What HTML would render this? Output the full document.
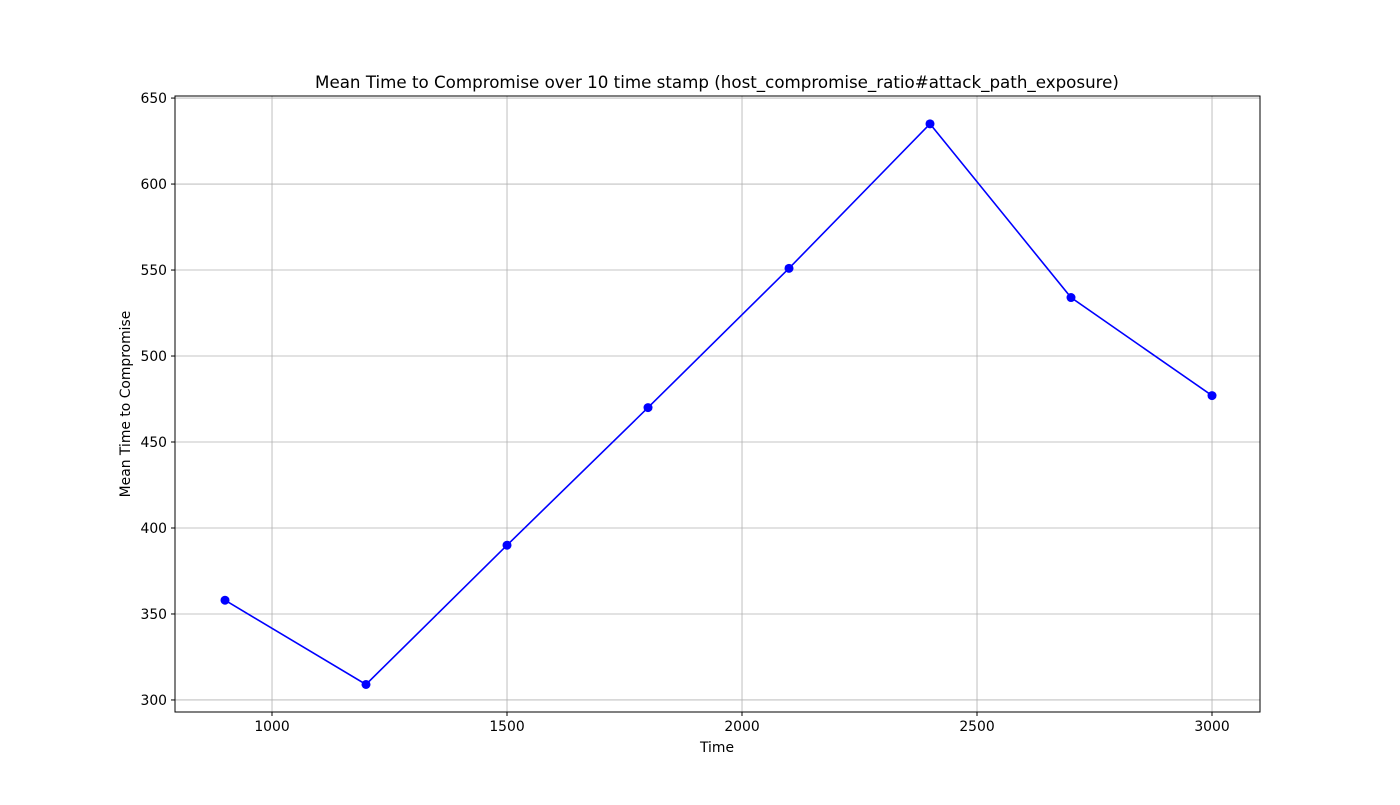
<!DOCTYPE html>
<html><head><meta charset="utf-8">
<style>
body{margin:0;background:#fff;}
svg text{font-family:"DejaVu Sans","Liberation Sans",sans-serif;fill:#000;}
</style></head>
<body>
<svg id="chart" width="1400" height="800" xmlns="http://www.w3.org/2000/svg">
<rect width="1400" height="800" fill="#fff"/>
<text x="717" y="88" font-size="16.7" text-anchor="middle">Mean Time to Compromise over 10 time stamp (host_compromise_ratio#attack_path_exposure)</text>
<g id="grid"></g>
<g id="ticks"></g>
<g id="series"></g>
<rect x="175" y="96" width="1085" height="616" fill="none" stroke="#000" stroke-width="1"/>
<text x="717" y="752" font-size="13.9" text-anchor="middle">Time</text>
<text x="130" y="404" font-size="13.9" text-anchor="middle" transform="rotate(-90 130 404)">Mean Time to Compromise</text>
</svg>
<script>
const times = [900, 1200, 1500, 1800, 2100, 2400, 2700, 3000];
const mttc = [358, 309, 390, 470, 551, 635, 534, 477];
const xTicks = [1000, 1500, 2000, 2500, 3000];
const yTicks = [300, 350, 400, 450, 500, 550, 600, 650];

const L=175,R=1260,T=96,B=712;
const xMin=793.6,xMax=3102.1,yMin=293.0,yMax=651.2;
const xs=v=>L+(v-xMin)/(xMax-xMin)*(R-L);
const ys=v=>B-(v-yMin)/(yMax-yMin)*(B-T);
const NS='http://www.w3.org/2000/svg';
function mk(tag,attrs,parent){const e=document.createElementNS(NS,tag);for(const k in attrs)e.setAttribute(k,attrs[k]);document.getElementById(parent).appendChild(e);return e;}

xTicks.forEach(v=>{
  const x=xs(v);
  const g=mk('line',{x1:x,x2:x,y1:T,y2:B,stroke:'#b0b0b0','stroke-width':0.8},'grid');
  
  
  const t=mk('line',{x1:x,x2:x,y1:B,y2:B+4,stroke:'#000'},'ticks');
  
  
  const l=mk('text',{x:x,y:B+19,'font-size':13.9,'text-anchor':'middle'},'ticks');
  l.textContent=v;
  
  
});
yTicks.forEach(v=>{
  const y=ys(v);
  const g=mk('line',{x1:L,x2:R,y1:y,y2:y,stroke:'#b0b0b0','stroke-width':0.8},'grid');
  
  
  const t=mk('line',{x1:L-4,x2:L,y1:y,y2:y,stroke:'#000'},'ticks');
  
  
  const l=mk('text',{x:L-8,y:y+5,'font-size':13.9,'text-anchor':'end'},'ticks');
  l.textContent=v;
  
  
});
const pts=times.map((t,i)=>xs(t)+','+ys(mttc[i])).join(' ');
const line=mk('polyline',{points:pts,fill:'none',stroke:'#0000ff','stroke-width':1.6},'series');


times.forEach((t,i)=>{
  const c=mk('circle',{cx:xs(t),cy:ys(mttc[i]),r:4.5,fill:'#0000ff'},'series');
  
  
});
</script>
</body></html>
